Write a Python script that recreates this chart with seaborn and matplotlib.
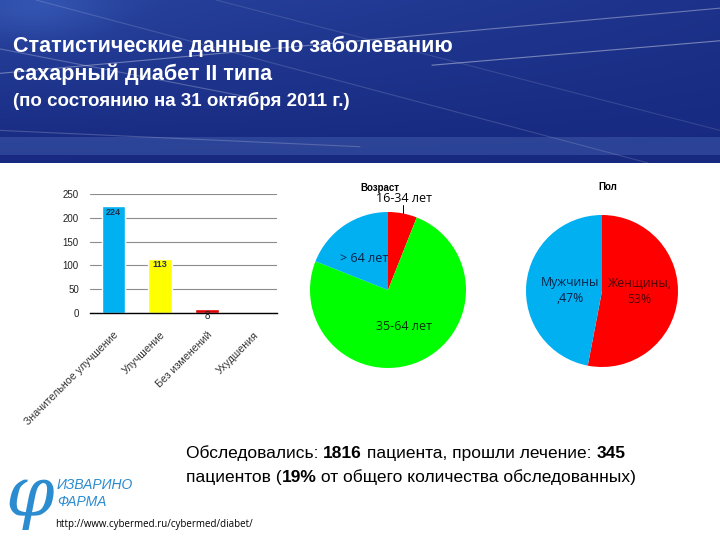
"""
Слайд: статистика по сахарному диабету II типа (по состоянию на 31.10.2011).
"""

import numpy as np
import matplotlib
matplotlib.use('Agg')
import matplotlib.pyplot as plt
import seaborn as sns

# Данные
outcome_labels = ['Значительное улучшение', 'Улучшение', 'Без изменений', 'Ухудшения']
outcome_counts = [224, 113, 8, 0]
outcome_colors = ['#00b0f0', '#ffff00', '#e00000', '#7f7f7f']

age_groups = ['16-34 лет', '35-64 лет', '> 64 лет']
age_shares = [6, 75, 19]
age_colors = ['#ff0000', '#00ff00', '#00b0f0']

sex_groups = ['Женщины', 'Мужчины']
sex_shares = [53, 47]
sex_colors = ['#ff0000', '#00b0f0']
sex_labels = ['Женщины,\n53%', 'Мужчины\n,47%']

sns.set_theme(style='white')
plt.rcParams['font.family'] = ['Liberation Sans', 'DejaVu Sans']
label_font = ['Open Sans', 'DejaVu Sans']

fig = plt.figure(figsize=(7.2, 5.4), dpi=100, facecolor='white')

# Шапка: синий градиент с линиями
hdr = fig.add_axes([0, 1 - 163 / 540, 1, 163 / 540])
gx, gy = np.meshgrid(np.linspace(0, 1, 300), np.linspace(0, 1, 100))
shade = 0.5 * (1 - gx) * gy + 0.25 * gy + 0.5 * np.exp(-((gx - 0.05) ** 2 / 0.01 + (gy - 0.95) ** 2 / 0.03))
top = np.array([0.18, 0.30, 0.66])
base = np.array([0.09, 0.16, 0.50])
img = base + (top - base) * shade[..., None]
hdr.imshow(np.clip(img, 0, 1), extent=[0, 1, 0, 1], aspect='auto', origin='lower')
for x0, y0, x1, y1, a in [(0.0, 0.55, 1.0, 0.95, 0.35), (0.05, 1.0, 0.9, 0.0, 0.15),
                          (0.3, 1.0, 1.0, 0.2, 0.12), (0.6, 0.6, 1.0, 0.75, 0.4),
                          (0.0, 0.2, 0.5, 0.1, 0.2), (0.0, 0.7, 0.35, 0.4, 0.25)]:
    hdr.plot([x0, x1], [y0, y1], color='white', alpha=a, lw=0.8)
hdr.axhspan(0.05, 0.16, color='#6a8fd8', alpha=0.25, lw=0)
hdr.set_xlim(0, 1)
hdr.set_ylim(0, 1)
hdr.axis('off')

title_kw = dict(color='white', fontweight='bold', fontsize=15.5, va='baseline')
fig.text(13 / 720, 1 - 52 / 540, 'Статистические данные по заболеванию', **title_kw)
fig.text(13 / 720, 1 - 80 / 540, 'сахарный диабет II типа', **title_kw)
fig.text(13 / 720, 1 - 106 / 540, '(по состоянию на 31 октября 2011 г.)',
         color='white', fontweight='bold', fontsize=13.5, va='baseline')

# Столбчатая диаграмма исходов лечения
ax = fig.add_axes([90 / 720, 1 - 313 / 540, 187 / 720, 119 / 540])
sns.barplot(x=outcome_labels, y=outcome_counts, hue=outcome_labels,
            palette=outcome_colors, width=0.5, legend=False, ax=ax,
            saturation=1)
ax.set_ylim(0, 250)
ax.set_yticks(range(0, 251, 50))
ax.yaxis.grid(True, color='#8c8c8c', lw=0.8)
ax.set_axisbelow(True)
for s in ['top', 'right', 'left']:
    ax.spines[s].set_visible(False)
ax.spines['bottom'].set_color('black')
ax.spines['bottom'].set_linewidth(1)
ax.tick_params(axis='y', labelsize=7, length=0, pad=8, colors='#222222')
ax.tick_params(axis='x', labelsize=7.7, length=0, pad=12, colors='#333333')
ax.set_xticks(range(len(outcome_labels)))
ax.set_xticklabels(outcome_labels, rotation=45, ha='right', rotation_mode='anchor')
ax.set_xlabel('')
ax.set_ylabel('')
for i, v in enumerate(outcome_counts):
    if v <= 0:
        continue
    ypos = v - 12 if v > 30 else -7
    ax.text(i, ypos, str(v), ha='center', va='center', fontsize=6.5 if v > 30 else 7,
            fontweight='bold' if v > 30 else 'normal',
            color='#1f3050' if v > 30 else '#222222', clip_on=False, zorder=5)

# Круговая диаграмма по возрасту
ax_age = fig.add_axes([310 / 720, 1 - 368 / 540, 156 / 720, 156 / 540])
ax_age.pie(age_shares, colors=age_colors, startangle=90, counterclock=False,
           wedgeprops=dict(linewidth=0))
ax_age.set_xlim(-1, 1)
ax_age.set_ylim(-1, 1)
ax_age.set_aspect('equal')
ax_age.text(-0.1, 1.31, 'Возраст', ha='center', va='center', fontsize=7,
            fontweight='bold', color='black', clip_on=False)
ax_age.text(0.2, 1.17, age_groups[0], ha='center', va='center', fontsize=9,
            family=label_font, color='black', clip_on=False)
ax_age.plot([0.19, 0.19], [1.09, 0.99], color='black', lw=0.7, clip_on=False)
ax_age.text(0.2, -0.47, age_groups[1], ha='center', va='center', fontsize=9,
            family=label_font, color='#063306')
ax_age.text(-0.3, 0.41, age_groups[2], ha='center', va='center', fontsize=9,
            family=label_font, color='#0a2248')

# Круговая диаграмма по полу
ax_sex = fig.add_axes([526 / 720, 1 - 367 / 540, 152 / 720, 152 / 540])
ax_sex.pie(sex_shares, colors=sex_colors, startangle=90, counterclock=False,
           wedgeprops=dict(linewidth=0))
ax_sex.set_xlim(-1, 1)
ax_sex.set_ylim(-1, 1)
ax_sex.set_aspect('equal')
ax_sex.text(0.07, 1.37, 'Пол', ha='center', va='center', fontsize=7,
            fontweight='bold', color='black', clip_on=False)
ax_sex.text(0.49, -0.01, sex_labels[0], ha='center', va='center', fontsize=8.8,
            family=label_font, color='#4a0505', linespacing=1.3)
ax_sex.text(-0.42, 0.01, sex_labels[1], ha='center', va='center', fontsize=8.8,
            family=label_font, color='#0a2248', linespacing=1.3)

# Нижний текст с жирными числами
renderer = fig.canvas.get_renderer()


def rich_line(x, y, parts, size):
    for s, bold in parts:
        t = fig.text(x, y, s, fontsize=size, color='black', va='baseline',
                     fontweight='bold' if bold else 'normal')
        x += t.get_window_extent(renderer).width / fig.bbox.width


rich_line(186 / 720, 1 - 458 / 540,
          [('Обследовались: ', False), ('1816', True),
           (' пациента, прошли лечение: ', False), ('345', True)], 12.5)
rich_line(186 / 720, 1 - 482 / 540,
          [('пациентов (', False), ('19%', True),
           (' от общего количества обследованных)', False)], 12.5)

fig.text(55 / 720, 1 - 527 / 540, 'http://www.cybermed.ru/cybermed/diabet/',
         fontsize=7, color='black', family=label_font)

# Логотип
fig.text(30 / 720, 1 - 497 / 540, 'φ', fontsize=50, color='#2b8ccf',
         style='italic', ha='center', va='center', family=['DejaVu Serif'])
fig.text(57 / 720, 1 - 485 / 540, 'ИЗВАРИНО', fontsize=10, color='#2b8ccf',
         style='italic', va='center')
fig.text(57 / 720, 1 - 502 / 540, 'ФАРМА', fontsize=10, color='#2b8ccf',
         style='italic', va='center')

plt.savefig('out.png', dpi=100, facecolor='white')
plt.close()
